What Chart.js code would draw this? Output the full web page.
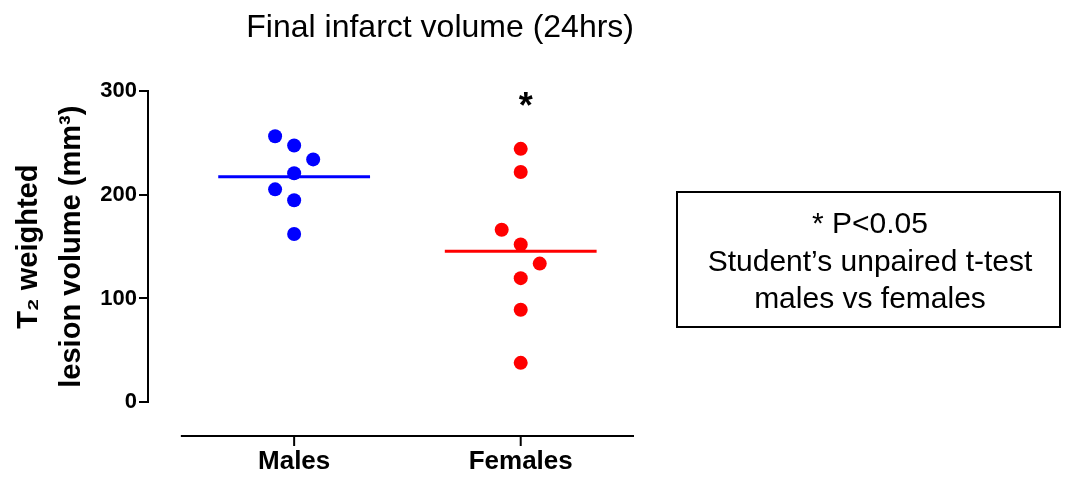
<!DOCTYPE html>
<html>
<head>
<meta charset="utf-8">
<script src="https://cdn.jsdelivr.net/npm/chart.js@4.4.0/dist/chart.umd.min.js"></script>
<style>
  html, body { margin: 0; padding: 0; background: #fff; }
</style>
</head>
<body>
<canvas id="grafico" width="1065" height="477"></canvas>
<script>
const groups = ["Males", "Females"];
const males = [256.7, 247.8, 234.3, 220.9, 205.4, 194.9, 162.2];
const malesSide = [-1, 0, 1, 0, -1, 0, 0];
const females = [244.5, 222.1, 166.3, 152.2, 133.7, 119.6, 89.1, 37.8];
const femalesSide = [0, 0, -1, 0, 1, 0, 0, 0];
const yTicks = [0, 100, 200, 300];
const sigMark = "*";
const sigLevel = 274;
const noteLines = ["* P<0.05", "Student\u2019s unpaired t-test", "males vs females"];

const FONT = '"Liberation Sans", Arial, Helvetica, sans-serif';
const spread = 0.084;
const halfBar = 0.335;

const mean = (a) => a.reduce((s, v) => s + v, 0) / a.length;
const dots = (vals, side, pos) => vals.map((v, i) => ({ x: pos + side[i] * spread, y: v }));
const meanLine = (vals, pos) => [
  { x: pos - halfBar, y: mean(vals) },
  { x: pos + halfBar, y: mean(vals) },
];

// axis lines (offset, prism style), the asterisk and the note box
const extras = {
  id: "extras",
  afterDraw(chart) {
    const { ctx, scales: { x, y } } = chart;
    const axisY = y.getPixelForValue(0) + 34;
    ctx.save();
    ctx.strokeStyle = "#000";
    ctx.lineWidth = 2;
    ctx.beginPath();
    ctx.moveTo(x.getPixelForValue(0.5), axisY);
    ctx.lineTo(x.getPixelForValue(2.5), axisY);
    ctx.stroke();
    groups.forEach((g, i) => {
      const px = x.getPixelForValue(i + 1);
      ctx.beginPath();
      ctx.moveTo(px, axisY);
      ctx.lineTo(px, axisY + 10);
      ctx.stroke();
    });

    ctx.fillStyle = "#000";
    ctx.textAlign = "center";
    ctx.textBaseline = "alphabetic";
    ctx.font = "bold 36px " + FONT;
    ctx.fillText(sigMark, x.getPixelForValue(2) + 5, y.getPixelForValue(sigLevel));

    ctx.lineWidth = 2;
    ctx.strokeRect(677, 192, 383, 135);
    ctx.font = "30px " + FONT;
    noteLines.forEach((t, i) => {
      ctx.fillText(t, 870, 233 + i * 37.5);
    });
    ctx.restore();
  },
};

const ctx = document.getElementById("grafico").getContext("2d");
const grafico = new Chart(ctx, {
  type: "scatter",
  data: {
    datasets: [
      {
        label: groups[0],
        data: dots(males, malesSide, 1),
        backgroundColor: "#0000ff",
        borderWidth: 0,
        pointRadius: 7,
        order: 0,
      },
      {
        label: groups[1],
        data: dots(females, femalesSide, 2),
        backgroundColor: "#ff0000",
        borderWidth: 0,
        pointRadius: 7,
        order: 0,
      },
      {
        type: "line",
        data: meanLine(males, 1),
        borderColor: "#0000ff",
        borderWidth: 3,
        pointRadius: 0,
        order: 1,
      },
      {
        type: "line",
        data: meanLine(females, 2),
        borderColor: "#ff0000",
        borderWidth: 3,
        pointRadius: 0,
        order: 1,
      },
    ],
  },
  options: {
    responsive: false,
    animation: false,
    layout: { padding: { left: 0, right: 431, top: 0, bottom: 0 } },
    scales: {
      x: {
        type: "linear",
        min: 0.355,
        max: 2.5,
        afterBuildTicks: (s) => { s.ticks = groups.map((g, i) => ({ value: i + 1 })); },
        afterFit: (s) => { s.height = 75; },
        border: { display: false },
        grid: { display: false, drawTicks: false },
        ticks: {
          color: "#000",
          padding: 44,
          font: { family: FONT, size: 26, weight: "bold" },
          callback: (v) => groups[v - 1],
        },
      },
      y: {
        min: 0,
        max: 300,
        afterBuildTicks: (s) => { s.ticks = yTicks.map((v) => ({ value: v })); },
        afterFit: (s) => { s.width = 148; },
        border: { display: true, color: "#000", width: 2 },
        grid: { drawOnChartArea: false, drawTicks: true, tickLength: 9, color: "#000", lineWidth: 2 },
        ticks: { color: "#000", padding: 2, font: { family: FONT, size: 22, weight: "bold" } },
        title: {
          display: true,
          text: ["T\u2082 weighted", "lesion volume (mm\u00B3)"],
          color: "#000",
          font: { family: FONT, size: 29, weight: "bold", lineHeight: 1.47 },
          padding: { top: 8, bottom: 0 },
        },
      },
    },
    plugins: {
      legend: { display: false },
      tooltip: { enabled: false },
      title: {
        display: true,
        text: "Final infarct volume (24hrs)",
        align: "end",
        color: "#000",
        font: { family: FONT, size: 32, weight: "normal" },
        padding: { top: 9, bottom: 44 },
      },
    },
  },
  plugins: [extras],
});
</script>
</body>
</html>
